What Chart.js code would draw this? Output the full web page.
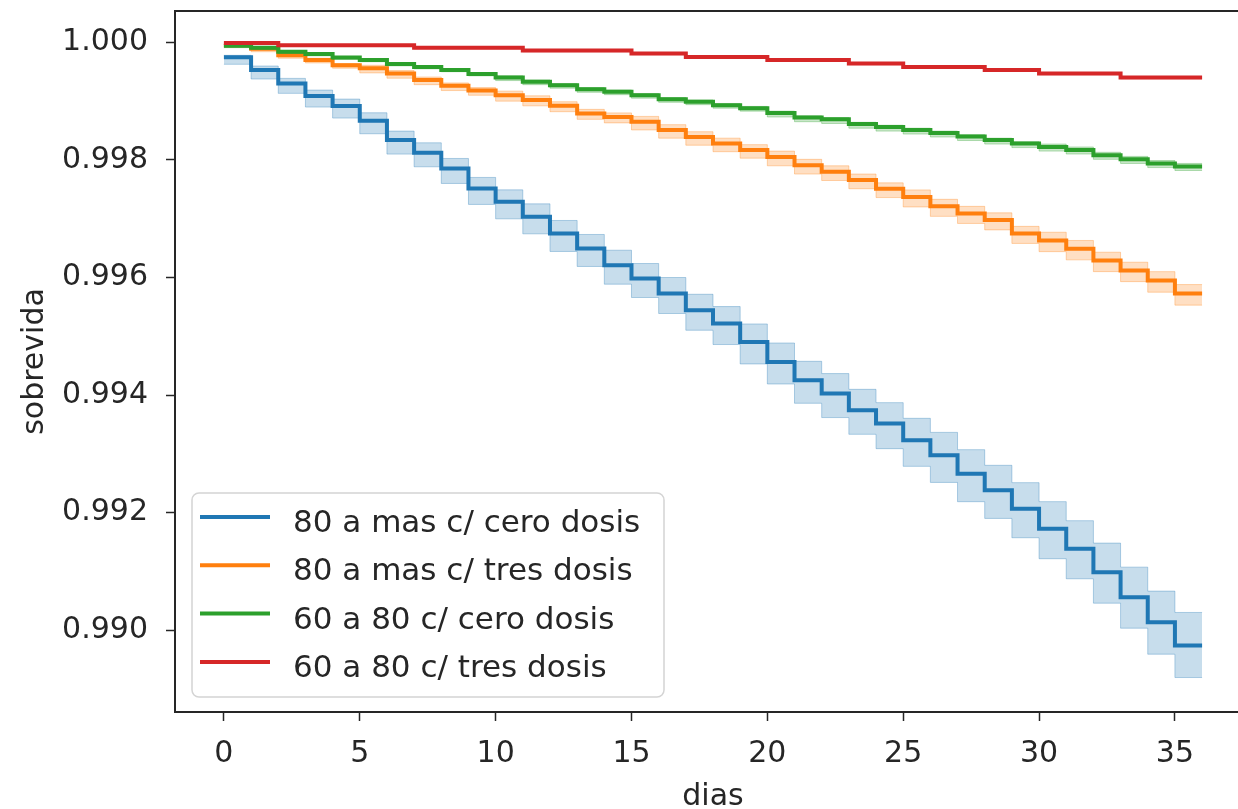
<!DOCTYPE html>
<html><head><meta charset="utf-8">
<script src="https://cdn.jsdelivr.net/npm/chart.js@4.4.0/dist/chart.umd.min.js"></script>
<style>
html,body{margin:0;padding:0;overflow:hidden;background:#fff;}
#wrap{position:absolute;left:0;top:0;width:1262px;height:809px;}
</style></head><body>
<div id="wrap"><canvas id="c" width="1262" height="809"></canvas></div>
<script>
const days = [0,1,2,3,4,5,6,7,8,9,10,11,12,13,14,15,16,17,18,19,20,21,22,23,24,25,26,27,28,29,30,31,32,33,34,35,36];
const xTicks = [0,5,10,15,20,25,30,35];
const yTicks = [0.990,0.992,0.994,0.996,0.998,1.000];
const seriesLabels = ['80 a mas c/ cero dosis','80 a mas c/ tres dosis','60 a 80 c/ cero dosis','60 a 80 c/ tres dosis'];

const blueS  = [0.999745,0.999529,0.999302,0.999086,0.998916,0.998666,0.998337,0.998121,0.997855,0.997515,0.997287,0.997032,0.996749,0.996494,0.996209,0.995983,0.995728,0.995443,0.995217,0.994904,0.994563,0.994252,0.994026,0.993741,0.993515,0.993231,0.992975,0.992664,0.992380,0.992068,0.991728,0.991387,0.990989,0.990563,0.990138,0.989741,0.989741];
const blueHi = [0.999779,0.999597,0.999387,0.999188,0.999035,0.998802,0.998490,0.998291,0.998025,0.997702,0.997491,0.997253,0.996970,0.996732,0.996464,0.996238,0.996000,0.995715,0.995506,0.995210,0.994886,0.994575,0.994366,0.994098,0.993872,0.993605,0.993366,0.993072,0.992806,0.992511,0.992188,0.991864,0.991483,0.991074,0.990666,0.990303,0.990303];
const blueLo = [0.999626,0.999376,0.999132,0.998899,0.998712,0.998445,0.998099,0.997883,0.997600,0.997243,0.996998,0.996743,0.996443,0.996188,0.995886,0.995660,0.995388,0.995103,0.994860,0.994530,0.994189,0.993861,0.993618,0.993333,0.993089,0.992788,0.992515,0.992187,0.991903,0.991574,0.991217,0.990876,0.990461,0.990035,0.989593,0.989196,0.989196];

const orangeS  = [0.99995,0.99989,0.99978,0.99970,0.99961,0.99956,0.99947,0.99936,0.99926,0.99918,0.99910,0.99902,0.99892,0.99879,0.99873,0.99865,0.99851,0.99839,0.99828,0.99817,0.99805,0.99791,0.99780,0.99766,0.99751,0.99737,0.99721,0.99709,0.99698,0.99675,0.99663,0.99649,0.99629,0.99612,0.99595,0.99573,0.99573];
const orangeHi = [0.99997,0.99992,0.99981,0.99973,0.99964,0.99961,0.99952,0.99941,0.99931,0.99923,0.99917,0.99909,0.99899,0.99886,0.99880,0.99874,0.99860,0.99848,0.99837,0.99826,0.99815,0.99801,0.99790,0.99776,0.99761,0.99749,0.99733,0.99721,0.99710,0.99687,0.99677,0.99663,0.99643,0.99626,0.99610,0.99588,0.99588];
const orangeLo = [0.99992,0.99984,0.99973,0.99965,0.99956,0.99948,0.99939,0.99928,0.99918,0.99910,0.99900,0.99892,0.99882,0.99869,0.99863,0.99851,0.99837,0.99825,0.99814,0.99803,0.99790,0.99776,0.99765,0.99751,0.99736,0.99720,0.99704,0.99692,0.99681,0.99658,0.99644,0.99630,0.99610,0.99593,0.99575,0.99553,0.99553];

const greenS  = [0.99994,0.99991,0.99984,0.99980,0.99974,0.99970,0.99963,0.99958,0.99953,0.99946,0.99940,0.99933,0.99927,0.99920,0.99916,0.99910,0.99903,0.99899,0.99893,0.99888,0.99880,0.99872,0.99869,0.99861,0.99856,0.99851,0.99846,0.99840,0.99834,0.99828,0.99822,0.99817,0.99808,0.99801,0.99794,0.99789,0.99789];
const greenHi = [0.99996,0.99993,0.99986,0.99982,0.99976,0.99972,0.99965,0.99960,0.99955,0.99948,0.99943,0.99936,0.99930,0.99923,0.99919,0.99913,0.99906,0.99902,0.99896,0.99891,0.99883,0.99875,0.99872,0.99864,0.99859,0.99854,0.99849,0.99843,0.99837,0.99831,0.99827,0.99822,0.99813,0.99806,0.99799,0.99794,0.99794];
const greenLo = [0.99991,0.99988,0.99981,0.99977,0.99971,0.99967,0.99960,0.99955,0.99950,0.99943,0.99935,0.99928,0.99922,0.99915,0.99911,0.99905,0.99898,0.99894,0.99888,0.99883,0.99873,0.99865,0.99862,0.99854,0.99849,0.99844,0.99839,0.99833,0.99827,0.99821,0.99815,0.99810,0.99801,0.99794,0.99787,0.99782,0.99782];

const redS  = [0.99999,0.99999,0.99995,0.99995,0.99995,0.99995,0.99995,0.99991,0.99991,0.99991,0.99991,0.99986,0.99986,0.99986,0.99986,0.99981,0.99981,0.99975,0.99975,0.99975,0.99970,0.99970,0.99970,0.99964,0.99964,0.99958,0.99958,0.99958,0.99953,0.99953,0.99947,0.99947,0.99947,0.99940,0.99940,0.99940,0.99940];
const redHi = [1.00000,1.00000,0.99996,0.99996,0.99996,0.99996,0.99996,0.99992,0.99992,0.99992,0.99992,0.99987,0.99987,0.99987,0.99987,0.99982,0.99982,0.99976,0.99976,0.99976,0.99971,0.99971,0.99971,0.99965,0.99965,0.99959,0.99959,0.99959,0.99954,0.99954,0.99948,0.99948,0.99948,0.99941,0.99941,0.99941,0.99941];
const redLo = [0.99997,0.99997,0.99993,0.99993,0.99993,0.99993,0.99993,0.99989,0.99989,0.99989,0.99989,0.99984,0.99984,0.99984,0.99984,0.99979,0.99979,0.99973,0.99973,0.99973,0.99968,0.99968,0.99968,0.99962,0.99962,0.99956,0.99956,0.99956,0.99951,0.99951,0.99945,0.99945,0.99945,0.99938,0.99938,0.99938,0.99938];

const lineColors = ['#1f77b4','#ff7f0e','#2ca02c','#d62728'];
const bandFills  = ['rgba(31,119,180,0.25)','rgba(255,127,14,0.25)','rgba(44,160,44,0.25)','rgba(214,39,40,0.25)'];
const bandEdges  = ['rgba(31,119,180,0.32)','rgba(255,127,14,0.32)','rgba(44,160,44,0.32)','rgba(214,39,40,0.32)'];

const series = [
  {s: blueS, hi: blueHi, lo: blueLo},
  {s: orangeS, hi: orangeHi, lo: orangeLo},
  {s: greenS, hi: greenHi, lo: greenLo},
  {s: redS, hi: redHi, lo: redLo}
];
function pts(arr){ return days.map((d,i)=>({x:d, y:arr[i]})); }

// 'before' in Chart.js = hold previous value until next x (matplotlib steps-post)
const STEP = 'before';
const datasets = [];
series.forEach((sr,k)=>{
  const ord = (3-k)*2;
  datasets.push({label: seriesLabels[k]+' ci_hi', data: pts(sr.hi), stepped:STEP, borderColor: bandEdges[k], borderWidth:1, backgroundColor: bandFills[k], fill:'+1', pointRadius:0, order: ord+1, isBand:true});
  datasets.push({label: seriesLabels[k]+' ci_lo', data: pts(sr.lo), stepped:STEP, borderColor: bandEdges[k], borderWidth:1, fill:false, pointRadius:0, order: ord+1, isBand:true});
  datasets.push({label: seriesLabels[k], data: pts(sr.s), stepped:STEP, borderColor: lineColors[k], borderWidth:4, fill:false, pointRadius:0, order: ord, isMain:true});
});

const FONT = 'DejaVu Sans';
const TXT = '#262626';

const framePlugin = {
  id:'frame',
  afterDatasetsDraw(chart){
    const {ctx, chartArea:a} = chart;
    ctx.save();
    ctx.strokeStyle = '#262626';
    ctx.lineWidth = 2;
    ctx.strokeRect(a.left, a.top, a.right-a.left, a.bottom-a.top);
    ctx.restore();
  }
};

const legendPlugin = {
  id:'mplLegend',
  afterDraw(chart){
    const ctx = chart.ctx, a = chart.chartArea;
    const bx = a.left + 17, by = a.bottom - 219, bw = 472, bh = 204, r = 7;
    ctx.save();
    ctx.beginPath();
    ctx.moveTo(bx+r, by);
    ctx.arcTo(bx+bw, by, bx+bw, by+bh, r);
    ctx.arcTo(bx+bw, by+bh, bx, by+bh, r);
    ctx.arcTo(bx, by+bh, bx, by, r);
    ctx.arcTo(bx, by, bx+bw, by, r);
    ctx.closePath();
    ctx.fillStyle = 'rgba(255,255,255,0.8)';
    ctx.fill();
    ctx.strokeStyle = '#d4d4d4';
    ctx.lineWidth = 1.5;
    ctx.stroke();
    const mains = chart.data.datasets.filter(d=>d.isMain);
    mains.forEach((d,i)=>{
      const y = by + 24 + i*48.3;
      ctx.strokeStyle = d.borderColor;
      ctx.lineWidth = 4;
      ctx.beginPath();
      ctx.moveTo(bx+8, y);
      ctx.lineTo(bx+78, y);
      ctx.stroke();
      ctx.fillStyle = TXT;
      ctx.font = '31px "' + FONT + '"';
      ctx.textBaseline = 'alphabetic';
      ctx.textAlign = 'left';
      ctx.fillText(d.label, bx+101, y+15);
    });
    ctx.restore();
  }
};

new Chart(document.getElementById('c'), {
  type:'line',
  data:{datasets},
  options:{
    responsive:false,
    animation:false,
    events:[],
    layout:{padding:{left:0, top:11, right:11, bottom:0}},
    plugins:{legend:{display:false}, tooltip:{enabled:false}},
    scales:{
      x:{
        type:'linear', min:-1.8, max:37.8,
        afterBuildTicks:(s)=>{ s.ticks = xTicks.map(v=>({value:v})); },
        afterFit:(s)=>{ s.height = 97; s.paddingLeft = 0; s.paddingRight = 0; },
        grid:{display:true, drawOnChartArea:false, drawTicks:true, tickLength:9, tickColor:'#262626', tickWidth:1.5},
        border:{display:false},
        ticks:{color:TXT, font:{family:FONT, size:30}, padding:15, maxRotation:0, autoSkip:false, callback:(v)=>String(v)},
        title:{display:true, text:'dias', color:TXT, font:{family:FONT, size:30, lineHeight:0.8}, padding:{top:0, bottom:0}}
      },
      y:{
        type:'linear', min:0.98861, max:1.000533,
        afterBuildTicks:(s)=>{ s.ticks = yTicks.map(v=>({value:v})); },
        afterFit:(s)=>{ s.width = 175; s.paddingTop = 0; s.paddingBottom = 0; },
        grid:{display:true, drawOnChartArea:false, drawTicks:true, tickLength:9, tickColor:'#262626', tickWidth:1.5},
        border:{display:false},
        ticks:{color:TXT, font:{family:FONT, size:30}, padding:18, autoSkip:false, callback:(v)=>Number(v).toFixed(3)},
        title:{display:true, text:'sobrevida', color:TXT, font:{family:FONT, size:30, lineHeight:1}, padding:{top:20, bottom:0}}
      }
    }
  },
  plugins:[framePlugin, legendPlugin]
});
</script>
</body></html>
